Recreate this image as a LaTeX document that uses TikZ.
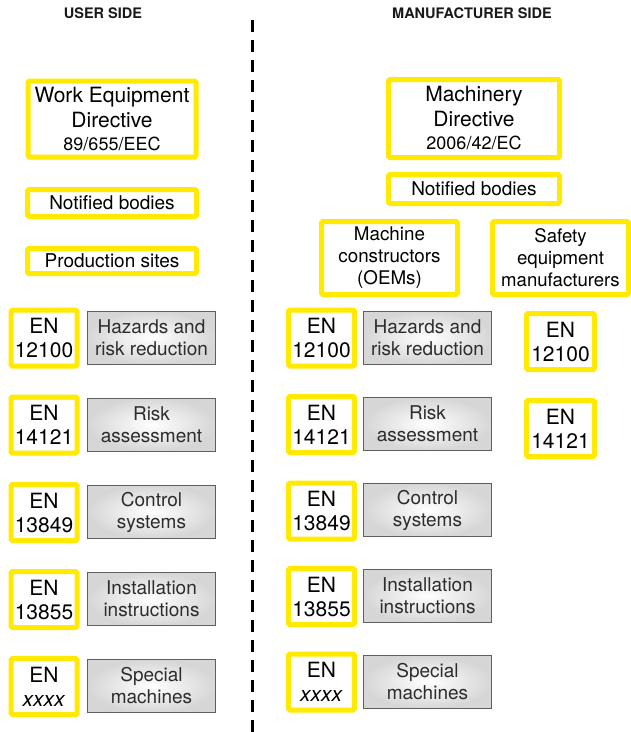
\documentclass[tikz,border=0pt]{standalone}
\usepackage{fontspec}
\setmainfont{TeX Gyre Heros}
\usetikzlibrary{shadings}
\definecolor{ylw}{RGB}{255,234,0}
\definecolor{gbord}{RGB}{95,95,95}
\definecolor{gtext}{RGB}{45,45,45}
\begin{document}
\begin{tikzpicture}[x=1pt,y=-1pt,
  ybox/.style={draw=ylw,line width=5pt,rounded corners=1.5pt,fill=white,inner sep=0pt,align=center,font=\fontsize{21}{25}\selectfont},
  enbox/.style={ybox,minimum width=66pt,minimum height=56pt,font=\fontsize{21}{24}\selectfont},
  gbox/.style={draw=gbord,line width=0.8pt,inner sep=0pt,align=center,minimum width=128pt,minimum height=53pt,
    inner color=white,outer color=black!16,text=gtext,font=\fontsize{19}{22}\selectfont},
  hdr/.style={font=\bfseries\fontsize{14.5}{16}\selectfont,text=black!90}]
\useasboundingbox (0,0) rectangle (631,732);
\node[hdr] (huser) at (103,13) {USER SIDE};
\node[hdr] (hman) at (472,13) {MANUFACTURER SIDE};
\coordinate (dtop) at (252,20);
\coordinate (dbot) at (252,732);
\draw[line width=3pt,dash pattern=on 12pt off 8pt] (dtop) -- (dbot);
% left
\node[ybox,minimum width=168pt,minimum height=76pt] (wed) at (112,119) {Work Equipment\\Directive\\[-2pt]{\fontsize{18}{20}\selectfont 89/655/EEC}};
\node[ybox,minimum width=169pt,minimum height=27pt,font=\fontsize{19}{22}\selectfont] (nbl) at (112,203) {Notified bodies};
\node[ybox,minimum width=169pt,minimum height=25pt,font=\fontsize{19}{22}\selectfont] (psl) at (112,261) {Production sites};
% right
\node[ybox,minimum width=171pt,minimum height=78pt] (md) at (474,118.5) {Machinery\\Directive\\[-2pt]{\fontsize{18}{20}\selectfont 2006/42/EC}};
\node[ybox,minimum width=171pt,minimum height=29pt,font=\fontsize{19}{22}\selectfont] (nbr) at (474,189) {Notified bodies};
\node[ybox,minimum width=136pt,minimum height=73pt,font=\fontsize{18.8}{22}\selectfont] (mc) at (389.5,258) {Machine\\constructors\\(OEMs)};
\node[ybox,minimum width=136pt,minimum height=73pt,font=\fontsize{18.6}{22}\selectfont] (sem) at (560.5,258) {Safety\\equipment\\manufacturers};
% left rows
\node[enbox] (l1) at (44,338) {EN\\12100};
\node[gbox] (g1) at (151.5,337.5) {Hazards and\\risk reduction};
\node[enbox] (l2) at (44,425) {EN\\14121};
\node[gbox] (g2) at (151.5,424.5) {Risk\\assessment};
\node[enbox] (l3) at (44,512.5) {EN\\13849};
\node[gbox] (g3) at (151.5,512) {Control\\systems};
\node[enbox] (l4) at (44,599.5) {EN\\13855};
\node[gbox] (g4) at (151.5,599) {Installation\\instructions};
\node[enbox] (l5) at (44,686.5) {EN\\\textit{xxxx}};
\node[gbox] (g5) at (151.5,686) {Special\\machines};
% right rows
\node[enbox] (r1) at (321.5,338) {EN\\12100};
\node[gbox] (h1) at (427.5,337.5) {Hazards and\\risk reduction};
\node[enbox] (r2) at (321.5,424.5) {EN\\14121};
\node[gbox] (h2) at (427.5,424) {Risk\\assessment};
\node[enbox] (r3) at (321.5,511) {EN\\13849};
\node[gbox] (h3) at (427.5,510) {Control\\systems};
\node[enbox] (r4) at (321.5,596.5) {EN\\13855};
\node[gbox] (h4) at (427.5,596) {Installation\\instructions};
\node[enbox] (r5) at (321.5,682) {EN\\\textit{xxxx}};
\node[gbox] (h5) at (427.5,682) {Special\\machines};
% far right
\node[enbox,minimum width=68pt] (s1) at (560.5,341.5) {EN\\12100};
\node[enbox,minimum width=68pt] (s2) at (560.5,428.5) {EN\\14121};
\end{tikzpicture}
\end{document}
